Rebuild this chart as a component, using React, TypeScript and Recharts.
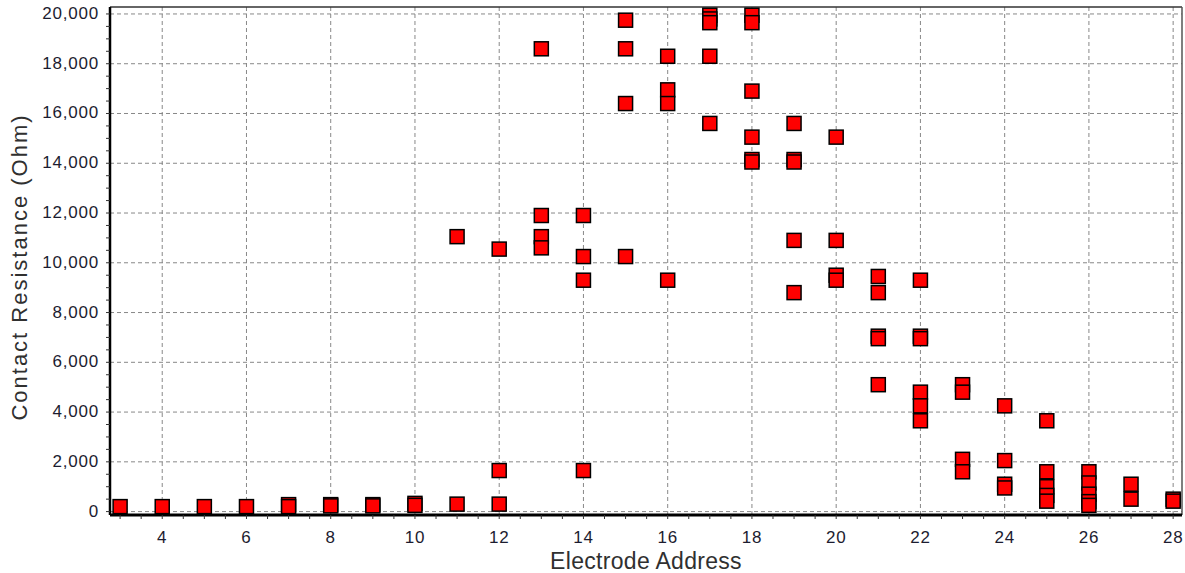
import React from "react";
import {
  ScatterChart,
  Scatter,
  XAxis,
  YAxis,
  CartesianGrid,
  ReferenceLine,
  Label,
} from "recharts";

// electrode address -> measured contact resistances (Ohm)
const electrodeAddress = [3, 4, 5, 6, 7, 8, 9, 10, 11, 12, 13, 14, 15, 16, 17, 18, 19, 20, 21, 22, 23, 24, 25, 26, 27, 28];
const contactResistance: number[][] = [
  [200],
  [200],
  [200],
  [200],
  [280, 200],
  [280, 230],
  [280, 230],
  [330, 250],
  [11050, 300],
  [10550, 1650, 300],
  [18600, 11900, 11050, 10600],
  [11900, 10250, 9300, 1650],
  [19750, 18600, 16400, 10250],
  [18300, 16950, 16400, 9300],
  [19950, 19800, 19650, 18300, 15600],
  [19950, 19650, 16900, 15050, 14150, 14050],
  [15600, 14150, 14050, 10900, 8800],
  [15050, 10900, 9500, 9300],
  [9450, 8800, 7050, 6950, 5100],
  [9300, 7050, 6950, 4800, 4250, 3650],
  [5100, 4800, 2100, 1600],
  [4250, 2050, 1100, 950],
  [3650, 1600, 1000, 650, 420],
  [1600, 1150, 700, 400, 250],
  [1100, 500],
  [500, 420],
];

const xDomain = [2.76, 28.21];
const yDomain = [-137, 20280];
const xMajorTicks = [4, 6, 8, 10, 12, 14, 16, 18, 20, 22, 24, 26, 28];
const yMajorTicks = [0, 2000, 4000, 6000, 8000, 10000, 12000, 14000, 16000, 18000, 20000];

const range = (from: number, to: number, step: number) => {
  const out: number[] = [];
  for (let v = from; v <= to + 1e-9; v += step) out.push(Math.round(v * 100) / 100);
  return out;
};
const xMinorTicks = range(3, 28, 0.5);
const yMinorTicks = range(0, 20000, 500);

const points = electrodeAddress.flatMap((x, i) =>
  contactResistance[i].map((y) => ({ x, y }))
);

const font = "'Liberation Sans', Arial, sans-serif";

const XTick = (props: any) => {
  const { x, y, payload } = props;
  if (!xMajorTicks.includes(payload.value)) return <g />;
  return (
    <text x={x} y={y} dy={22} textAnchor="middle" fontFamily={font} fontSize={17} letterSpacing={0.8} fill="#1c1c30">
      {payload.value}
    </text>
  );
};

const YTick = (props: any) => {
  const { x, y, payload } = props;
  if (!yMajorTicks.includes(payload.value)) return <g />;
  return (
    <text x={x} y={y} dx={-5} dy={5} textAnchor="end" fontFamily={font} fontSize={17} letterSpacing={0.8} fill="#1c1c30">
      {payload.value.toLocaleString("en-US")}
    </text>
  );
};

const SquareMarker = (props: any) => {
  const { cx, cy } = props;
  return <rect x={cx - 7} y={cy - 7} width={14} height={14} fill="#ff0000" stroke="#000" strokeWidth={1.5} />;
};

const XTitle = (props: any) => {
  const { viewBox } = props;
  return (
    <text x={viewBox.x + viewBox.width / 2} y={viewBox.y + 54} textAnchor="middle" fontFamily={font} fontSize={23} letterSpacing={0.3} fill="#303030">
      Electrode Address
    </text>
  );
};

const YTitle = (props: any) => {
  const { viewBox } = props;
  const cx = 27;
  const cy = viewBox.y + viewBox.height / 2 + 6;
  return (
    <text x={cx} y={cy} transform={`rotate(-90 ${cx} ${cy})`} textAnchor="middle" fontFamily={font} fontSize={22} letterSpacing={2} fill="#303030">
      Contact Resistance (Ohm)
    </text>
  );
};

export default function App() {
  return (
    <div style={{ position: "absolute", left: 0, top: 0, background: "#fff" }}>
      <ScatterChart width={1185} height={573} margin={{ top: 7, right: 3, bottom: 0, left: 0 }}>
        <CartesianGrid
          stroke="#888"
          strokeDasharray="4 3"
          verticalValues={xMajorTicks}
          horizontalValues={yMajorTicks}
        />
        <ReferenceLine y={yDomain[1]} stroke="#333" strokeWidth={1.5} />
        <ReferenceLine x={xDomain[1]} stroke="#555" strokeWidth={1.5} />
        <XAxis
          type="number"
          dataKey="x"
          domain={xDomain}
          ticks={xMinorTicks}
          interval={0}
          allowDataOverflow
          height={58}
          tick={<XTick />}
          tickSize={4}
          tickLine={{ stroke: "#333" }}
          axisLine={{ stroke: "#000", strokeWidth: 3 }}
        >
          <Label content={<XTitle />} />
        </XAxis>
        <YAxis
          type="number"
          dataKey="y"
          domain={yDomain}
          ticks={yMinorTicks}
          interval={0}
          allowDataOverflow
          width={110}
          tick={<YTick />}
          tickSize={4}
          tickLine={{ stroke: "#333" }}
          axisLine={{ stroke: "#000", strokeWidth: 2.5 }}
        >
          <Label content={<YTitle />} />
        </YAxis>
        <Scatter data={points} shape={<SquareMarker />} isAnimationActive={false} />
      </ScatterChart>
    </div>
  );
}
